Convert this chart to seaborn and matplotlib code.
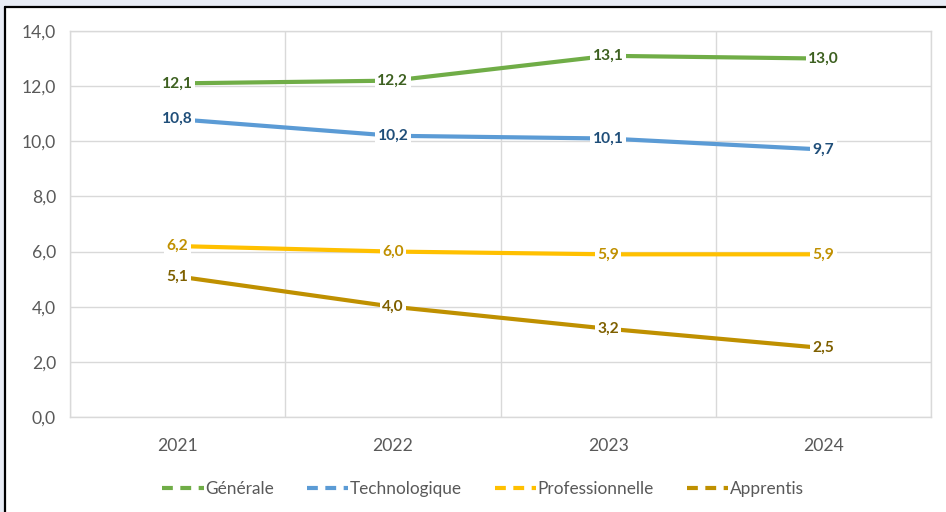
import pandas as pd
import seaborn as sns
import matplotlib.pyplot as plt
from matplotlib.lines import Line2D
from matplotlib.patches import Rectangle

# Data
years = ["2021", "2022", "2023", "2024"]
generale = [12.1, 12.2, 13.1, 13.0]
technologique = [10.8, 10.2, 10.1, 9.7]
professionnelle = [6.2, 6.0, 5.9, 5.9]
apprentis = [5.1, 4.0, 3.2, 2.5]

series = {
    "Générale": generale,
    "Technologique": technologique,
    "Professionnelle": professionnelle,
    "Apprentis": apprentis,
}
line_colors = {
    "Générale": "#70AD47",
    "Technologique": "#5B9BD5",
    "Professionnelle": "#FFC000",
    "Apprentis": "#BF9000",
}
label_colors = {
    "Générale": "#3D6020",
    "Technologique": "#1F4E79",
    "Professionnelle": "#C09000",
    "Apprentis": "#7F6000",
}

df = pd.DataFrame(
    [(y, name, v) for name, vals in series.items() for y, v in zip(years, vals)],
    columns=["annee", "serie", "valeur"],
)

sns.set_style("white")
plt.rcParams["font.family"] = ["Lato", "DejaVu Sans"]

fig = plt.figure(figsize=(9.46, 5.12), dpi=100)
fig.patch.set_facecolor("#E8ECF5")
# white card with black top/left edge
fig.patches.append(Rectangle((5 / 946, 0), 1, 505 / 512, transform=fig.transFigure,
                             facecolor="white", edgecolor="none", zorder=-5))
fig.add_artist(Line2D([4.5 / 946, 1], [505.5 / 512, 505.5 / 512], color="black", lw=1.6,
                      transform=fig.transFigure))
fig.add_artist(Line2D([4.5 / 946, 4.5 / 946], [0, 505.5 / 512], color="black", lw=1.6,
                      transform=fig.transFigure))

ax = fig.add_axes([70 / 946, 95 / 512, 861 / 946, 386 / 512])
ax.set_facecolor("white")

sns.lineplot(data=df, x="annee", y="valeur", hue="serie", palette=line_colors,
             linewidth=3, sort=False, legend=False, ax=ax, zorder=3)

for name, vals in series.items():
    for i, v in enumerate(vals):
        ax.text(i, v, f"{v:.1f}".replace(".", ","), ha="center", va="center",
                fontsize=11.2, fontweight="bold", color=label_colors[name], zorder=5,
                bbox=dict(boxstyle="square,pad=0.15", fc="white", ec="none"))

ax.set_xlim(-0.5, 3.5)
ax.set_ylim(0, 14)
yt = [0, 2, 4, 6, 8, 10, 12, 14]
ax.set_yticks(yt)
ax.set_yticklabels([f"{t:.1f}".replace(".", ",") for t in yt])
ax.set_xticks(range(len(years)))
ax.set_xticklabels(years)
ax.set_xticks([-0.5, 0.5, 1.5, 2.5, 3.5], minor=True)
ax.grid(False)
ax.grid(True, axis="y", which="major", color="#D9D9D9", lw=1, zorder=0)
ax.grid(True, axis="x", which="minor", color="#D9D9D9", lw=1, zorder=0)
ax.tick_params(axis="both", which="both", length=0, labelsize=12.6, labelcolor="#595959")
ax.tick_params(axis="x", pad=15)
ax.tick_params(axis="y", pad=10)
ax.set_xlabel("")
ax.set_ylabel("")
for side in ["top", "right", "bottom", "left"]:
    ax.spines[side].set_color("#D9D9D9")
    ax.spines[side].set_linewidth(1)

handles = [Line2D([0], [0], color=line_colors[n], lw=3, linestyle=(0, (2.6, 1.8)))
           for n in series]
leg = fig.legend(handles, list(series.keys()), loc="center", bbox_to_anchor=(483 / 946, 23 / 512),
                 ncol=4, frameon=False, fontsize=12.4, handlelength=2.4, handletextpad=0.1,
                 columnspacing=1.9, labelcolor="#595959")

fig.savefig("out.png", dpi=100)
